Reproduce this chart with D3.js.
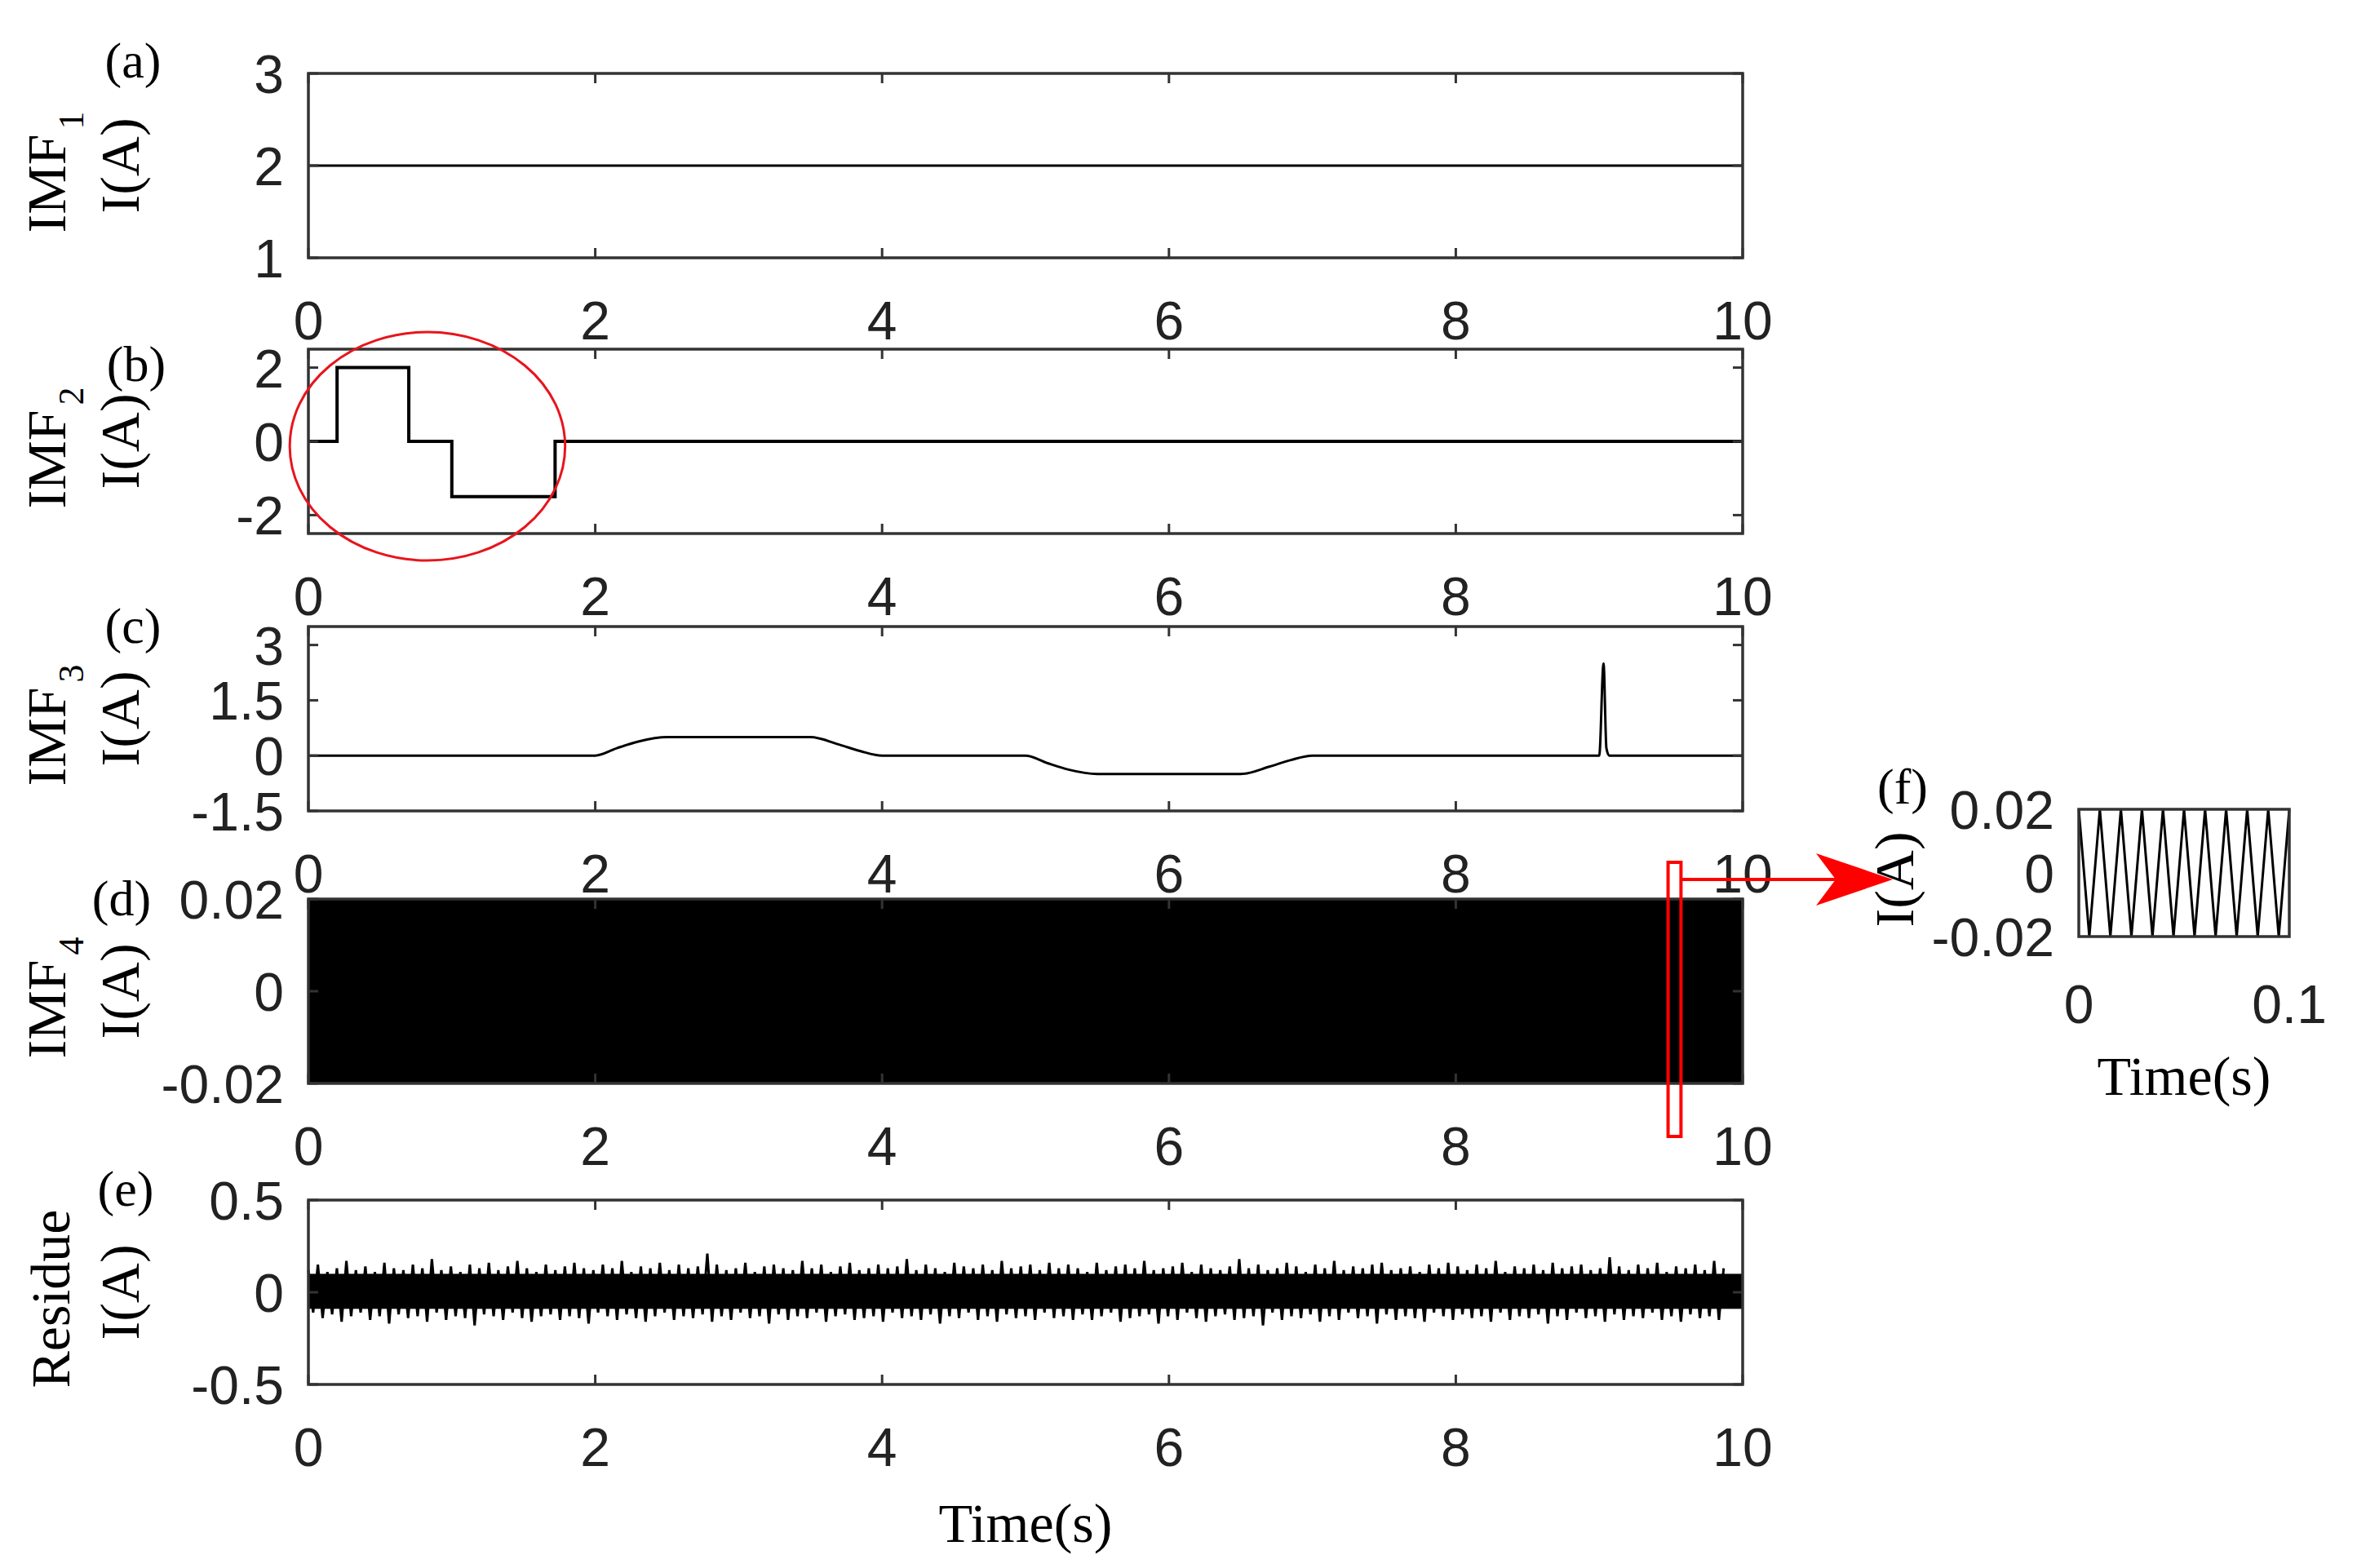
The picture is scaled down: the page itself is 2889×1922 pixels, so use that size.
<!DOCTYPE html><html><head><meta charset="utf-8">
<script src="https://cdn.jsdelivr.net/npm/d3@7"></script>
<style>body{margin:0;background:#fff}</style></head><body>
<svg id="c" width="2889" height="1922"></svg>
<script>
const xTicks=[0,2,4,6,8,10];
const imf1T=[0,10], imf1V=[2,2];
const imf2T=[0,0.2,0.2,0.7,0.7,1.0,1.0,1.72,1.72,10], imf2V=[0,0,2,2,0,0,-1.5,-1.5,0,0];
const imf3T=[0,2,2.15,2.3,2.5,3.5,3.7,3.85,4,5,5.15,5.3,5.5,6.5,6.7,6.85,7,9.0,9.03,9.05,9.07,10];
const imf3V=[0,0,0.2,0.38,0.5,0.5,0.3,0.12,0,0,-0.2,-0.38,-0.5,-0.5,-0.3,-0.12,0,0,2.5,0.2,0,0];
const imf4T=[0,10], imf4Hi=[0.02,0.02], imf4Lo=[-0.02,-0.02];
const resUp=[0.12,0.15,0.11,0.13,0.17,0.12,0.14,0.11,0.16,0.13,0.12,0.15,0.13,0.18,0.12,0.14,0.11,0.15,0.13,0.16,0.12,0.14,0.17,0.13,0.11,0.15,0.12,0.14,0.16,0.13,0.12,0.15,0.13,0.17,0.11,0.14,0.13,0.16,0.12,0.15,0.13,0.14,0.21,0.15,0.12,0.13,0.16,0.11,0.14,0.15,0.13,0.12,0.17,0.13,0.15,0.11,0.14,0.16,0.12,0.13,0.15,0.13,0.14,0.18,0.12,0.15,0.13,0.11,0.16,0.14,0.13,0.15,0.12,0.17,0.13,0.14,0.15,0.12,0.16,0.13,0.15,
 0.13,0.11,0.16,0.12,0.14,0.15,0.13,0.17,0.12,0.13,0.14,0.16,0.11,0.15,0.13,0.12,0.14,0.18,0.13,0.15,0.12,0.13,0.16,0.14,0.11,0.15,0.13,0.17,0.12,0.14,0.13,0.15,0.16,0.12,0.13,0.14,0.11,0.15,0.13,0.16,0.14,0.12,0.15,0.13,0.17,0.11,0.14,0.13,0.15,0.12,0.16,0.13,0.14,0.15,0.12,0.13,0.19,0.14,0.12,0.15,0.13,0.16,0.11,0.14,0.13,0.15,0.12,0.17,0.13,0.14];
const resLo=[-0.11,-0.14,-0.12,-0.16,-0.13,-0.11,-0.15,-0.13,-0.17,-0.12,-0.14,-0.13,-0.16,-0.11,-0.15,-0.13,-0.14,-0.18,-0.12,-0.13,-0.15,-0.11,-0.14,-0.16,-0.13,-0.12,-0.15,-0.13,-0.14,-0.17,-0.11,-0.13,-0.15,-0.12,-0.14,-0.16,-0.13,-0.11,-0.15,-0.13,-0.14,-0.12,-0.16,-0.13,-0.15,-0.11,-0.14,-0.13,-0.17,-0.12,-0.15,-0.13,-0.14,-0.11,-0.16,-0.13,-0.12,-0.15,-0.14,-0.13,-0.16,-0.11,-0.14,-0.13,-0.15,-0.12,-0.17,-0.13,-0.14,-0.11,-0.15,-0.13,-0.16,-0.12,-0.14,-0.13,-0.15,-0.11,-0.14,-0.13,-0.15,
 -0.12,-0.15,-0.13,-0.11,-0.16,-0.14,-0.13,-0.12,-0.17,-0.13,-0.15,-0.11,-0.14,-0.16,-0.13,-0.12,-0.15,-0.14,-0.13,-0.18,-0.11,-0.15,-0.13,-0.14,-0.12,-0.16,-0.13,-0.15,-0.11,-0.14,-0.13,-0.17,-0.12,-0.15,-0.13,-0.14,-0.16,-0.11,-0.13,-0.15,-0.12,-0.14,-0.13,-0.16,-0.11,-0.15,-0.13,-0.14,-0.12,-0.17,-0.13,-0.15,-0.11,-0.14,-0.13,-0.16,-0.12,-0.15,-0.13,-0.14,-0.11,-0.15,-0.13,-0.16,-0.12,-0.14,-0.13,-0.15];
const resCore=[-0.09,0.1];
const fT=[0,0.005,0.01,0.015,0.02,0.025,0.03,0.035,0.04,0.045,0.05,0.055,0.06,0.065,0.07,0.075,0.08,0.085,0.09,0.095,0.1];
const fV=[0.02,-0.02,0.02,-0.02,0.02,-0.02,0.02,-0.02,0.02,-0.02,0.02,-0.02,0.02,-0.02,0.02,-0.02,0.02,-0.02,0.02,-0.02,0.02];

const svg=d3.select("#c");
const L=378,R=2136,H=226;
const x=d3.scaleLinear().domain([0,10]).range([L,R]);
const panels=[
 {top:90,dom:[1,3],ticks:[1,2,3],lab:"(a)",lx:163,lo:-15,name:"IMF",sub:"1"},
 {top:428,dom:[-2.5,2.5],ticks:[-2,0,2],lab:"(b)",lx:167,lo:19,name:"IMF",sub:"2"},
 {top:768,dom:[-1.5,3.5],ticks:[-1.5,0,1.5,3],lab:"(c)",lx:163,lo:0,name:"IMF",sub:"3"},
 {top:1102,dom:[-0.02,0.02],ticks:[-0.02,0,0.02],lab:"(d)",lx:149,lo:0,name:"IMF",sub:"4"},
 {top:1471,dom:[-0.5,0.5],ticks:[-0.5,0,0.5],lab:"(e)",lx:154,lo:-13,name:"Residue",sub:""}];
const sans="Liberation Sans, Arial", serif="Liberation Serif, Times New Roman";
const FS=66, SF=68;
function frame(g,xs,ys,xt,yt,fmt){
  const [x0,x1]=xs.range(),[y1,y0]=ys.range();
  xt.forEach(t=>{g.append("line").attr("x1",xs(t)).attr("x2",xs(t)).attr("y1",y1).attr("y2",y1-12).attr("stroke","#333").attr("stroke-width",3);
    g.append("line").attr("x1",xs(t)).attr("x2",xs(t)).attr("y1",y0).attr("y2",y0+12).attr("stroke","#333").attr("stroke-width",3);
    g.append("text").attr("x",xs(t)).attr("y",y1+100).attr("text-anchor","middle").attr("font-family",sans).attr("font-size",FS).attr("fill","#222").text(t);});
  yt.forEach(t=>{g.append("line").attr("x1",x0).attr("x2",x0+12).attr("y1",ys(t)).attr("y2",ys(t)).attr("stroke","#333").attr("stroke-width",3);
    g.append("line").attr("x1",x1).attr("x2",x1-12).attr("y1",ys(t)).attr("y2",ys(t)).attr("stroke","#333").attr("stroke-width",3);
    g.append("text").attr("x",x0-30).attr("y",ys(t)+24).attr("text-anchor","end").attr("font-family",sans).attr("font-size",FS).attr("fill","#222").text(fmt?fmt(t):t);});
  g.append("rect").attr("x",x0).attr("y",y0).attr("width",x1-x0).attr("height",y1-y0).attr("fill","none").attr("stroke","#333").attr("stroke-width",3.5);
}
const series=[[imf1T,imf1V],[imf2T,imf2V],[imf3T,imf3V]];
panels.forEach((p,i)=>{
  const y=d3.scaleLinear().domain(p.dom).range([p.top+H,p.top]);
  const g=svg.append("g");
  if(i<3){
    const pts=series[i][0].map((t,k)=>[t,series[i][1][k]]);
    g.append("path").attr("d",d3.line().x(d=>x(d[0])).y(d=>y(d[1])).curve(i==2?d3.curveMonotoneX:d3.curveLinear)(pts))
      .attr("fill","none").attr("stroke","#000").attr("stroke-width",i==1?4:3);
  } else if(i==3){
    g.append("path").attr("d",d3.area().x(d=>x(d)).y0((d,k)=>y(imf4Lo[k])).y1((d,k)=>y(imf4Hi[k]))(imf4T)).attr("fill","#000");
  } else {
    const n=resUp.length;
    const pts=[];
    for(let k=0;k<n;k++){pts.push([k*10/n,resUp[k]]);pts.push([(k+0.5)*10/n,resLo[k]]);}
    g.append("rect").attr("x",x(0)).attr("width",x(10)-x(0)).attr("y",y(resCore[1])).attr("height",y(resCore[0])-y(resCore[1])).attr("fill","#000");
    g.append("path").attr("d",d3.line().x(d=>x(d[0])).y(d=>y(d[1]))(pts)).attr("stroke","#000").attr("stroke-width",3).attr("fill","none");
  }
  frame(g,x,y,xTicks,p.ticks);
  const cy=p.top+H/2;
  svg.append("text").attr("x",p.lx).attr("y",p.top+p.lo+20).attr("text-anchor","middle").attr("font-family",serif).attr("font-size",62).text(p.lab);
  const t1=svg.append("text").attr("transform",`translate(${i==4?85:80},${cy+8}) rotate(-90)`).attr("text-anchor","middle").attr("font-family",serif).attr("font-size",SF);
  t1.append("tspan").text(p.name);
  if(p.sub) t1.append("tspan").attr("font-size",44).attr("dy",22).attr("dx",6).text(p.sub);
  svg.append("text").attr("transform",`translate(${170},${cy}) rotate(-90)`).attr("text-anchor","middle").attr("font-family",serif).attr("font-size",SF).text("I(A)");
});
svg.append("text").attr("x",x(5)).attr("y",1890).attr("text-anchor","middle").attr("font-family",serif).attr("font-size",SF).text("Time(s)");

// annotations
const yb=d3.scaleLinear().domain([-2.5,2.5]).range([428+H,428]);
svg.append("ellipse").attr("cx",x(0.83)).attr("cy",yb(0)+6).attr("rx",x(0.96)-x(0)).attr("ry",140).attr("fill","none").attr("stroke","#e8141c").attr("stroke-width",3);
svg.append("rect").attr("x",x(9.48)).attr("y",1057).attr("width",x(9.57)-x(9.48)).attr("height",336).attr("fill","none").attr("stroke","#f00").attr("stroke-width",4);
svg.append("line").attr("x1",x(9.57)).attr("x2",2260).attr("y1",1078).attr("y2",1078).attr("stroke","#f00").attr("stroke-width",4);
svg.append("path").attr("d","M2226,1046 L2320,1078 L2226,1110 L2250,1078 Z").attr("fill","#f00");

// panel f
const fx=d3.scaleLinear().domain([0,0.1]).range([2548,2806]);
const fy=d3.scaleLinear().domain([-0.02,0.02]).range([1148,992]);
const fg=svg.append("g");
fg.append("path").attr("d",d3.line().x((d,k)=>fx(d)).y((d,k)=>fy(fV[k]))(fT)).attr("fill","none").attr("stroke","#000").attr("stroke-width",3);
fg.append("rect").attr("x",2548).attr("y",992).attr("width",258).attr("height",156).attr("fill","none").attr("stroke","#333").attr("stroke-width",3.5);
[-0.02,0,0.02].forEach(t=>fg.append("text").attr("x",2518).attr("y",fy(t)+24).attr("text-anchor","end").attr("font-family",sans).attr("font-size",FS).attr("fill","#222").text(t));
[[0,"0"],[0.1,"0.1"]].forEach(([t,s])=>fg.append("text").attr("x",fx(t)).attr("y",1254).attr("text-anchor","middle").attr("font-family",sans).attr("font-size",FS).attr("fill","#222").text(s));
fg.append("text").attr("x",fx(0.05)).attr("y",1342).attr("text-anchor","middle").attr("font-family",serif).attr("font-size",SF).text("Time(s)");
fg.append("text").attr("transform","translate(2345,1078) rotate(-90)").attr("text-anchor","middle").attr("font-family",serif).attr("font-size",SF).text("I(A)");
fg.append("text").attr("x",2332).attr("y",985).attr("text-anchor","middle").attr("font-family",serif).attr("font-size",62).text("(f)");
</script></body></html>
